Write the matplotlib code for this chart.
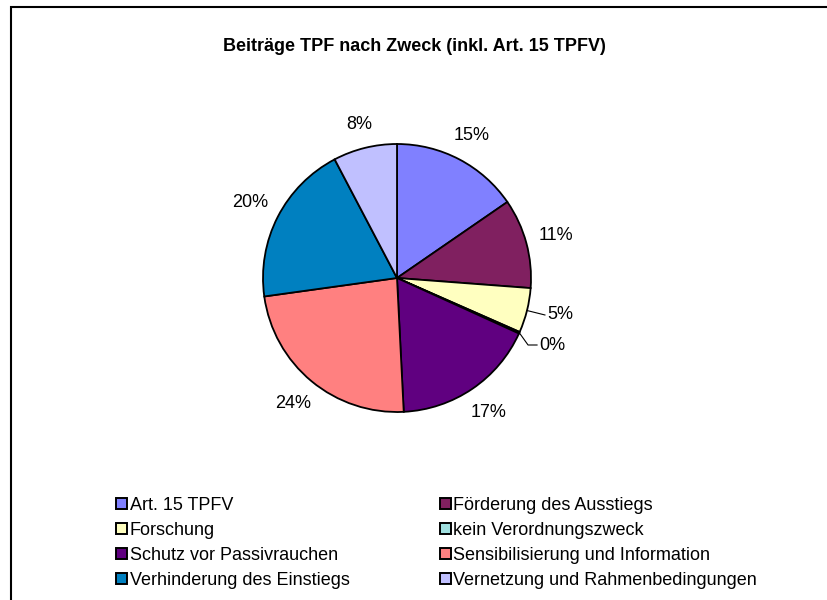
import numpy as np
import matplotlib.pyplot as plt
from matplotlib.patches import Rectangle

plt.rcParams['font.family'] = ['Liberation Sans', 'DejaVu Sans']

# Daten
kategorien = ["Art. 15 TPFV", "Förderung des Ausstiegs", "Forschung",
              "kein Verordnungszweck", "Schutz vor Passivrauchen",
              "Sensibilisierung und Information", "Verhinderung des Einstiegs",
              "Vernetzung und Rahmenbedingungen"]
anteile = [15.4, 10.8, 5.4, 0.2, 17.4, 23.6, 19.5, 7.7]
farben = ["#8080FF", "#802060", "#FFFFC0", "#A0E0E0",
          "#600080", "#FF8080", "#0080C0", "#C0C0FF"]
titel = "Beiträge TPF nach Zweck (inkl. Art. 15 TPFV)"

W, H = 827, 600
fig = plt.figure(figsize=(W/100, H/100), dpi=100)
# Rahmen (nur links und oben sichtbar)
fig.patches.append(Rectangle((11/W, -0.05), 1.1, 1 - 7/H + 0.05, transform=fig.transFigure,
                             fill=False, edgecolor='black', linewidth=1.5, clip_on=False))

fig.text(414/W, 1-46.5/H, titel, ha='center', va='center', fontsize=13, fontweight='bold')

ax = fig.add_axes([(397-134)/W, (H-278-134)/H, 268/W, 268/H])
wedges, _ = ax.pie(anteile, colors=farben, startangle=90, counterclock=False,
                   wedgeprops=dict(edgecolor='black', linewidth=1.3))
ax.set_xlim(-1, 1)
ax.set_ylim(-1, 1)
ax.set_aspect('equal')

# Beschriftungen
hb, hh, luecke = 0.127, 0.06, 0.09
for i, w in enumerate(wedges):
    mitte = np.deg2rad((w.theta1 + w.theta2) / 2)
    txt = "%d%%" % round(anteile[i])
    c, s = np.cos(mitte), np.sin(mitte)
    if anteile[i] < 6:
        # kleine Stücke mit Führungslinie
        if anteile[i] < 1:
            xs = [c, 0.978, 1.045]
            ys = [s, -0.50, -0.50]
        else:
            xs = [c, 1.104]
            ys = [s, -0.276]
        ax.plot(xs, ys, color='black', linewidth=0.8, clip_on=False)
        ax.text(xs[-1] + 0.02, ys[-1], txt, ha='left', va='center', fontsize=13)
    else:
        r = 1 + luecke + abs(c)*hb + abs(s)*hh
        ax.text(r*c, r*s, txt, ha='center', va='center', fontsize=13)

# Legende zeilenweise (2 Spalten)
reihenfolge = [0, 2, 4, 6, 1, 3, 5, 7]
leg = fig.legend([wedges[k] for k in reihenfolge], [kategorien[k] for k in reihenfolge],
                 ncol=2, loc='upper left', bbox_to_anchor=(116/W, 1-497/H),
                 frameon=False, fontsize=13, handlelength=0.6, handleheight=0.6,
                 handletextpad=0.15, columnspacing=5.0, labelspacing=0.44,
                 borderpad=0, borderaxespad=0)
for h in leg.legend_handles:
    h.set_linewidth(1.4)

fig.savefig("out.png", dpi=100)
